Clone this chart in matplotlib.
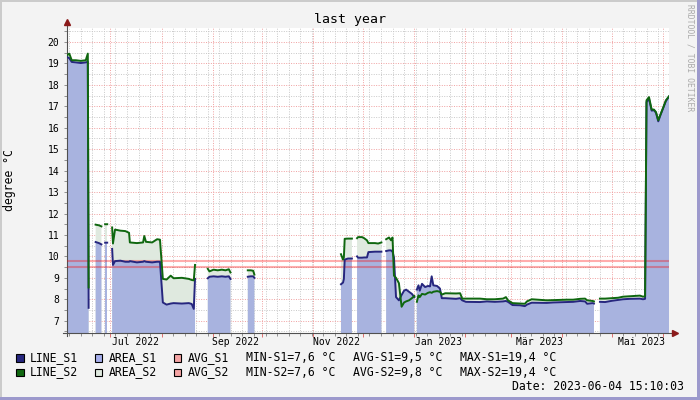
import numpy as np
import pandas as pd
import matplotlib
matplotlib.use("Agg")
import matplotlib.pyplot as plt
import matplotlib.dates as mdates
from matplotlib.patches import Rectangle
from matplotlib.ticker import MultipleLocator, NullFormatter

plt.rcParams['font.family'] = ['DejaVu Sans Mono']

# ---------------------------------------------------------------- data
# sample times (None in the value lists marks a gap in the record)
sample_dates = [
    # June
    "2022-06-04 15:10", "2022-06-06 00:00", "2022-06-07 12:00", "2022-06-10 00:00",
    "2022-06-13 00:00", "2022-06-16 00:00", "2022-06-17 06:00", "2022-06-17 18:00",
    "2022-06-18 12:00",
    "2022-06-22 00:00", "2022-06-24 00:00", "2022-06-25 12:00", "2022-06-26 12:00",
    "2022-06-27 18:00", "2022-06-29 00:00", "2022-06-30 00:00",
    # July / August
    "2022-07-02 00:00", "2022-07-02 12:00", "2022-07-03 18:00", "2022-07-07 00:00",
    "2022-07-10 00:00", "2022-07-12 06:00", "2022-07-12 18:00", "2022-07-17 00:00",
    "2022-07-20 18:00", "2022-07-21 12:00", "2022-07-22 12:00", "2022-07-26 06:00",
    "2022-07-29 06:00", "2022-07-31 00:00", "2022-08-01 18:00", "2022-08-04 00:00",
    "2022-08-06 12:00", "2022-08-08 06:00", "2022-08-13 06:00", "2022-08-17 12:00",
    "2022-08-19 06:00", "2022-08-20 12:00", "2022-08-21 06:00", "2022-08-22 00:00",
    # September
    "2022-08-29 00:00", "2022-08-30 00:00", "2022-09-01 12:00", "2022-09-04 00:00",
    "2022-09-06 12:00", "2022-09-08 18:00", "2022-09-10 18:00", "2022-09-11 18:00",
    "2022-09-12 12:00",
    "2022-09-22 06:00", "2022-09-24 00:00", "2022-09-25 12:00", "2022-09-26 06:00",
    "2022-09-27 00:00",
    # November / December
    "2022-11-17 18:00", "2022-11-19 00:00", "2022-11-19 12:00", "2022-11-20 00:00",
    "2022-11-22 00:00", "2022-11-24 09:00", "2022-11-25 00:00",
    "2022-11-27 12:00", "2022-11-28 03:00", "2022-11-30 12:00", "2022-12-01 18:00",
    "2022-12-03 12:00", "2022-12-04 09:00", "2022-12-08 09:00", "2022-12-10 06:00",
    "2022-12-12 06:00", "2022-12-13 00:00",
    "2022-12-15 03:00", "2022-12-16 21:00", "2022-12-18 03:00", "2022-12-19 00:00",
    "2022-12-19 21:00", "2022-12-21 03:00", "2022-12-22 21:00", "2022-12-24 12:00",
    "2022-12-26 00:00", "2022-12-27 06:00", "2022-12-29 00:00", "2022-12-30 18:00",
    "2023-01-01 06:00", "2023-01-02 00:00",
    # January - April
    "2023-01-02 18:00", "2023-01-03 18:00", "2023-01-04 12:00", "2023-01-05 21:00",
    "2023-01-07 18:00", "2023-01-09 12:00", "2023-01-10 18:00", "2023-01-11 18:00",
    "2023-01-12 18:00", "2023-01-15 00:00", "2023-01-16 18:00", "2023-01-17 21:00",
    "2023-01-20 00:00", "2023-01-26 12:00", "2023-01-29 00:00", "2023-01-30 06:00",
    "2023-02-01 12:00", "2023-02-10 00:00", "2023-02-14 06:00", "2023-02-19 00:00",
    "2023-02-24 00:00", "2023-02-25 18:00", "2023-02-27 00:00", "2023-03-01 18:00",
    "2023-03-06 06:00", "2023-03-09 06:00", "2023-03-10 12:00", "2023-03-13 09:00",
    "2023-03-22 12:00", "2023-03-26 06:00", "2023-04-03 15:00", "2023-04-07 12:00",
    "2023-04-11 18:00", "2023-04-14 18:00", "2023-04-16 00:00", "2023-04-19 09:00",
    "2023-04-20 03:00", "2023-04-21 00:00",
    # April - June
    "2023-04-23 18:00", "2023-04-26 21:00", "2023-05-01 03:00", "2023-05-04 18:00",
    "2023-05-07 18:00", "2023-05-12 00:00", "2023-05-18 00:00", "2023-05-19 21:00",
    "2023-05-21 03:00", "2023-05-22 00:00", "2023-05-23 12:00", "2023-05-25 03:00",
    "2023-05-26 12:00", "2023-05-27 18:00", "2023-05-29 03:00", "2023-05-30 06:00",
    "2023-06-01 06:00", "2023-06-02 18:00", "2023-06-04 15:10",
]

s1_values = [
    19.30, 19.25, 19.07, 19.05, 19.02, 19.05, 19.08, 7.60, None,
    10.67, 10.62, 10.56, None,
    10.64, 10.64, None,
    10.35, 9.60, 9.78, 9.80, 9.75, 9.75, 9.78, 9.72, 9.75, 9.78, 9.75, 9.72,
    9.75, 9.75, 7.85, 7.75, 7.80, 7.82, 7.80, 7.82, 7.78, 7.55, 8.95, None,
    8.98, 9.05, 9.07, 9.05, 9.07, 9.05, 9.07, 8.95, None,
    9.05, 9.07, 9.07, 9.00, None,
    8.70, 8.78, 8.95, 9.85, 9.90, 9.90, None,
    10.00, 9.94, 9.94, 9.95, 9.95, 10.20, 10.22, 10.22, 10.22, None,
    10.25, 10.28, 10.28, 10.22, 9.95, 8.10, 7.95, 8.20, 8.40, 8.45, 8.35, 8.25,
    8.10, None,
    8.45, 8.65, 8.40, 8.72, 8.57, 8.62, 8.60, 9.07, 8.65, 8.62, 8.50, 8.05,
    8.05, 8.02, 8.05, 7.95, 7.88, 7.87, 7.90, 7.88, 7.90, 7.92, 7.88, 7.73,
    7.72, 7.68, 7.75, 7.84, 7.83, 7.85, 7.87, 7.88, 7.92, 7.90, 7.79, 7.82,
    7.80, None,
    7.88, 7.87, 7.93, 7.97, 8.00, 8.02, 8.03, 8.00, 8.02, 17.20, 17.35, 16.80,
    16.82, 16.70, 16.30, 16.55, 16.95, 17.25, 17.45,
]

s2_values = [
    19.38, 19.46, 19.15, 19.15, 19.12, 19.15, 19.46, 8.55, None,
    11.48, 11.45, 11.40, None,
    11.50, 11.50, None,
    11.35, 10.60, 11.25, 11.20, 11.18, 11.10, 10.65, 10.62, 10.65, 10.95, 10.68, 10.65,
    10.80, 10.78, 8.95, 8.92, 9.10, 8.98, 9.00, 8.95, 8.90, 8.88, 9.60, None,
    9.42, 9.30, 9.38, 9.35, 9.38, 9.35, 9.40, 9.25, None,
    9.35, 9.35, 9.33, 9.15, None,
    10.10, 9.85, 9.95, 10.82, 10.83, 10.83, None,
    10.85, 10.90, 10.90, 10.85, 10.75, 10.62, 10.62, 10.60, 10.65, None,
    10.80, 10.88, 10.75, 10.88, 9.10, 9.00, 8.75, 7.65, 7.85, 7.90, 7.95, 8.05,
    8.15, None,
    7.88, 8.18, 8.10, 8.25, 8.22, 8.30, 8.33, 8.30, 8.35, 8.38, 8.35, 8.22,
    8.28, 8.27, 8.28, 8.03, 8.03, 8.03, 8.00, 8.00, 8.03, 8.10, 7.95, 7.82,
    7.80, 7.79, 7.90, 8.00, 7.95, 7.96, 7.98, 7.98, 8.02, 8.03, 7.95, 7.92,
    7.90, None,
    8.03, 8.03, 8.05, 8.07, 8.12, 8.14, 8.17, 8.12, 8.14, 17.28, 17.43, 16.85,
    16.85, 16.73, 16.35, 16.58, 16.97, 17.28, 17.47,
]

avg_s1 = 9.5
avg_s2 = 9.8
min_s1, max_s1 = 7.6, 19.4
min_s2, max_s2 = 7.6, 19.4

month_labels = ["Jul 2022", "Sep 2022", "Nov 2022", "Jan 2023", "Mär 2023", "Mai 2023"]
month_label_dates = ["2022-07-16", "2022-09-15", "2022-11-15", "2023-01-16",
                     "2023-03-18", "2023-05-19"]

time_start = "2022-06-04 15:10:03"
time_end = "2023-06-04 15:10:03"

# ---------------------------------------------------------------- helpers
W, H = 700, 400
AX_L, AX_R, AX_T, AX_B = 67, 669, 28.3, 332.7   # plot area in pixels

def fx(x):
    """ pixel column -> figure fraction """
    return x / W

def fy(y):
    """ pixel row (from top) -> figure fraction """
    return 1 - y / H

def num(v):
    """ german decimal comma """
    return f"{v:.1f}".replace('.', ',')

tvec = mdates.date2num(pd.to_datetime(sample_dates))
vec1 = np.array([np.nan if v is None else v for v in s1_values], dtype=float)
vec2 = np.array([np.nan if v is None else v for v in s2_values], dtype=float)

col_line1 = '#26267e'
col_line2 = '#0f670f'
col_area1 = '#a8b3df'
col_area2 = '#dfe9df'
col_avg = (1.0, 0.0, 0.0, 0.32)

# ---------------------------------------------------------------- figure
fig = plt.figure(figsize=(7, 4), dpi=100, facecolor='#f3f3f3')
ax = fig.add_axes([fx(AX_L), fy(AX_B), (AX_R - AX_L) / W, (AX_B - AX_T) / H])
ax.set_facecolor('white')
ax.set_axisbelow(True)

# areas, averages and lines
ax.fill_between(tvec, 0, vec2, color=col_area2, lw=0, zorder=1)
ax.fill_between(tvec, 0, vec1, color=col_area1, lw=0, zorder=1.5)
ax.axhline(avg_s1, color=col_avg, lw=1.5, zorder=3)
ax.axhline(avg_s2, color=col_avg, lw=1.5, zorder=3)
ax.plot(tvec, vec1, color=col_line1, lw=1.4, zorder=4)
ax.plot(tvec, vec2, color=col_line2, lw=1.4, zorder=5)

ax.set_xlim(mdates.date2num(pd.Timestamp(time_start)), mdates.date2num(pd.Timestamp(time_end)))
ax.set_ylim(6.44, 20.64)

# grid
ax.yaxis.set_major_locator(MultipleLocator(1))
ax.yaxis.set_minor_locator(MultipleLocator(0.5))
ax.xaxis.set_major_locator(mdates.MonthLocator())
ax.xaxis.set_minor_locator(mdates.WeekdayLocator(byweekday=mdates.MO))
ax.xaxis.set_major_formatter(NullFormatter())
ax.grid(which='minor', color='#c8c8c8', linestyle=(0, (1, 1.5)), lw=0.7)
ax.grid(which='major', color='#f0a0a0', linestyle=(0, (1, 1.5)), lw=0.7)

ax.tick_params(axis='y', which='both', direction='out', length=2.5, width=0.7,
               color='#909090', labelsize=7, pad=3)
ax.tick_params(axis='x', which='major', direction='out', length=3, width=0.7,
               color='#e07070')
ax.tick_params(axis='x', which='minor', direction='out', length=2, width=0.7,
               color='#909090')

for sp in ax.spines.values():
    sp.set_visible(False)

# axis lines with arrows
ax.plot([0, 0], [-0.012, 1.017], transform=ax.transAxes, color='#505050', lw=0.8, clip_on=False)
ax.plot([-0.006, 1.006], [0, 0], transform=ax.transAxes, color='#505050', lw=0.8, clip_on=False)
ax.plot(0, 1.021, marker='^', ms=4, color='#8b1a1a', transform=ax.transAxes, clip_on=False)
ax.plot(1.010, 0, marker='>', ms=4, color='#8b1a1a', transform=ax.transAxes, clip_on=False)

# month labels, centred 9 px below the axis
label_y = -9.5 / (AX_B - AX_T)
for lab, d in zip(month_labels, month_label_dates):
    ax.text(mdates.date2num(pd.Timestamp(d)), label_y, lab, transform=ax.get_xaxis_transform(),
            ha='center', va='center', fontsize=7)

# titles
fig.text(fx(350), fy(19), "last year", ha='center', va='center', fontsize=9.5)
fig.text(fx(10), fy(180), "degree °C", rotation=90, ha='center', va='center', fontsize=8.3)
fig.text(fx(690), fy(4), "RRDTOOL / TOBI OETIKER", rotation=270, ha='center', va='top',
         fontsize=5.8, color='#aaaaaa')

# legend
rows = [
    (357.5, [(col_line1, "LINE_S1"), ('#a6aeec', "AREA_S1"), ('#f4a4a4', "AVG_S1")],
     [f"MIN-S1={num(min_s1)} °C", f"AVG-S1={num(avg_s1)} °C", f"MAX-S1={num(max_s1)} °C"]),
    (372.0, [(col_line2, "LINE_S2"), (col_area2, "AREA_S2"), ('#f4a4a4', "AVG_S2")],
     [f"MIN-S2={num(min_s2)} °C", f"AVG-S2={num(avg_s2)} °C", f"MAX-S2={num(max_s2)} °C"]),
]
box_x = [16, 95, 173.5]
stat_x = [246, 353, 460]
for yc, boxes, stats in rows:
    for bx, (c, lab) in zip(box_x, boxes):
        fig.add_artist(Rectangle((fx(bx), fy(yc + 4)), 7.5 / W, 7.5 / H, transform=fig.transFigure,
                                 facecolor=c, edgecolor='black', lw=0.8))
        fig.text(fx(bx + 14), fy(yc), lab, ha='left', va='center', fontsize=8.3)
    for sx, s in zip(stat_x, stats):
        fig.text(fx(sx), fy(yc), s, ha='left', va='center', fontsize=8.3)

fig.text(fx(683.5), fy(386), "Date: 2023-06-04 15:10:03", ha='right', va='center', fontsize=8.3)

# frame
fig.add_artist(Rectangle((0, fy(2)), 1, 2 / H, transform=fig.transFigure, color='#cbcbcb', lw=0))
fig.add_artist(Rectangle((0, 0), 2 / W, 1, transform=fig.transFigure, color='#cbcbcb', lw=0))
fig.add_artist(Rectangle((fx(697), 0), 3 / W, 1, transform=fig.transFigure, color='#9c99cc', lw=0))
fig.add_artist(Rectangle((0, 0), 1, 3 / H, transform=fig.transFigure, color='#9c99cc', lw=0))

fig.savefig("out.png", dpi=100, facecolor=fig.get_facecolor())
